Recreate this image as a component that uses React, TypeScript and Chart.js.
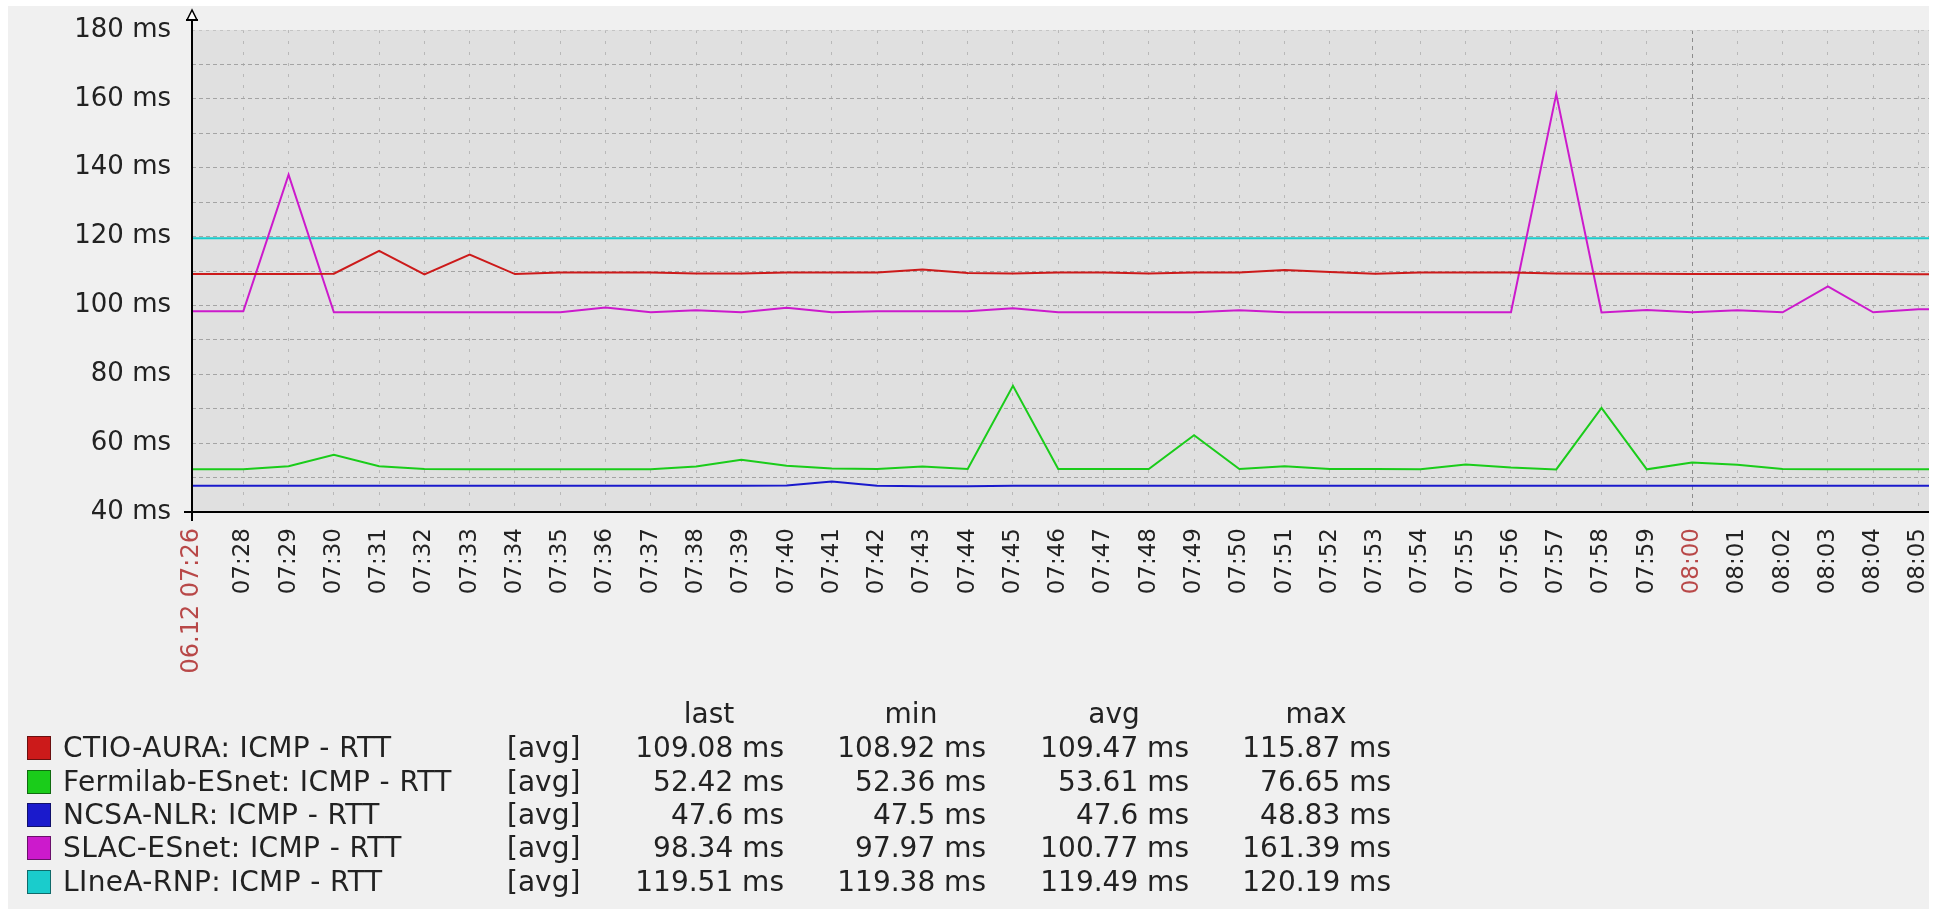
import React, { useEffect, useRef } from "react";
import { Chart, registerables } from "chart.js";

Chart.register(...registerables);

// ---------- data ----------
const times = [
  "07:26", "07:27", "07:28", "07:29", "07:30", "07:31", "07:32", "07:33", "07:34", "07:35",
  "07:36", "07:37", "07:38", "07:39", "07:40", "07:41", "07:42", "07:43", "07:44", "07:45",
  "07:46", "07:47", "07:48", "07:49", "07:50", "07:51", "07:52", "07:53", "07:54", "07:55",
  "07:56", "07:57", "07:58", "07:59", "08:00", "08:01", "08:02", "08:03", "08:04", "08:05", "08:06",
];

const ctioAura = [
  109.1, 109.1, 109.1, 109.1, 109.2, 115.87, 109.0, 114.8, 109.1, 109.6,
  109.6, 109.6, 109.3, 109.3, 109.6, 109.6, 109.6, 110.4, 109.4, 109.3,
  109.6, 109.6, 109.3, 109.6, 109.6, 110.3, 109.7, 109.2, 109.6, 109.6,
  109.6, 109.3, 109.2, 109.2, 109.1, 109.1, 109.1, 109.1, 109.1, 109.08, 109.08,
];

const fermilabEsnet = [
  52.4, 52.4, 52.4, 53.3, 56.6, 53.3, 52.5, 52.4, 52.4, 52.4,
  52.4, 52.4, 53.2, 55.2, 53.4, 52.6, 52.5, 53.2, 52.5, 76.65,
  52.5, 52.5, 52.5, 62.3, 52.5, 53.3, 52.5, 52.5, 52.4, 53.8,
  52.9, 52.36, 70.2, 52.4, 54.4, 53.7, 52.5, 52.42, 52.42, 52.42, 52.42,
];

const ncsaNlr = [
  47.6, 47.6, 47.6, 47.6, 47.6, 47.6, 47.6, 47.6, 47.6, 47.6,
  47.6, 47.6, 47.6, 47.6, 47.7, 48.83, 47.6, 47.5, 47.5, 47.6,
  47.6, 47.6, 47.6, 47.6, 47.6, 47.6, 47.6, 47.6, 47.6, 47.6,
  47.6, 47.6, 47.6, 47.6, 47.6, 47.6, 47.6, 47.6, 47.6, 47.6, 47.6,
];

const slacEsnet = [
  98.3, 98.3, 98.3, 138.0, 98.0, 98.0, 98.0, 98.0, 98.0, 98.0,
  99.4, 98.0, 98.6, 98.0, 99.3, 98.0, 98.3, 98.3, 98.3, 99.2,
  98.0, 98.0, 98.0, 98.0, 98.6, 98.0, 98.0, 98.0, 98.0, 98.0,
  98.0, 161.39, 97.97, 98.7, 98.0, 98.6, 98.0, 105.5, 98.0, 98.9, 98.9,
];

const lineaRnp = [
  119.5, 119.5, 119.5, 119.5, 119.5, 119.5, 119.5, 119.5, 119.5, 119.5,
  119.5, 119.5, 119.5, 119.5, 119.5, 119.5, 119.5, 119.5, 119.5, 119.5,
  119.5, 119.5, 119.5, 119.5, 119.5, 119.5, 119.5, 119.5, 119.5, 119.5,
  119.5, 119.5, 119.5, 119.5, 119.5, 119.5, 119.5, 119.5, 119.5, 119.51, 119.51,
];

const seriesNames = [
  "CTIO-AURA: ICMP - RTT",
  "Fermilab-ESnet: ICMP - RTT",
  "NCSA-NLR: ICMP - RTT",
  "SLAC-ESnet: ICMP - RTT",
  "LIneA-RNP: ICMP - RTT",
];
const seriesColors = ["#cc1a1a", "#1acc1a", "#1a1acc", "#cc1acc", "#1acccc"];
const seriesBorders = ["#6a1010", "#106a10", "#10106a", "#6a106a", "#106a6a"];
const seriesValues = [ctioAura, fermilabEsnet, ncsaNlr, slacEsnet, lineaRnp];

const lastVals = ["109.08 ms", "52.42 ms", "47.6 ms", "98.34 ms", "119.51 ms"];
const minVals = ["108.92 ms", "52.36 ms", "47.5 ms", "97.97 ms", "119.38 ms"];
const avgVals = ["109.47 ms", "53.61 ms", "47.6 ms", "100.77 ms", "119.49 ms"];
const maxVals = ["115.87 ms", "76.65 ms", "48.83 ms", "161.39 ms", "120.19 ms"];
const legendHeaders = ["last", "min", "avg", "max"];

// x axis: visible window and tick labels
const xWindowStart = "07:26:52";
const xWindowEnd = "08:05:14";
const xTickTimes = [
  "07:26:52", "07:28", "07:29", "07:30", "07:31", "07:32", "07:33", "07:34", "07:35", "07:36",
  "07:37", "07:38", "07:39", "07:40", "07:41", "07:42", "07:43", "07:44", "07:45", "07:46",
  "07:47", "07:48", "07:49", "07:50", "07:51", "07:52", "07:53", "07:54", "07:55", "07:56",
  "07:57", "07:58", "07:59", "08:00", "08:01", "08:02", "08:03", "08:04", "08:05",
];
const xTickLabels = [
  "06.12 07:26", "07:28", "07:29", "07:30", "07:31", "07:32", "07:33", "07:34", "07:35", "07:36",
  "07:37", "07:38", "07:39", "07:40", "07:41", "07:42", "07:43", "07:44", "07:45", "07:46",
  "07:47", "07:48", "07:49", "07:50", "07:51", "07:52", "07:53", "07:54", "07:55", "07:56",
  "07:57", "07:58", "07:59", "08:00", "08:01", "08:02", "08:03", "08:04", "08:05",
];
const redTickLabels = ["06.12 07:26", "08:00"];

const yMin = 40;
const yMax = 180;
const yStep = 10;
const yLabelEvery = 20;

// ---------- helpers ----------
const toMinutes = (t: string) => {
  const p = t.split(":").map(Number);
  return (p[0] - 7) * 60 + p[1] + (p[2] || 0) / 60;
};

const FONT = "'DejaVu Sans', sans-serif";
const W = 1921;
const H = 903;

export default function App() {
  const ref = useRef<HTMLCanvasElement | null>(null);

  useEffect(() => {
    if (!ref.current) return;
    const xMin = toMinutes(xWindowStart);
    const xMax = toMinutes(xWindowEnd);
    const tickVals = xTickTimes.map(toMinutes);
    const labelFor = (v: number) => {
      const i = tickVals.findIndex((t) => Math.abs(t - v) < 1e-6);
      return i >= 0 ? xTickLabels[i] : "";
    };

    const bgPlugin = {
      id: "plotBg",
      beforeDraw(chart: any) {
        const { ctx, chartArea: a } = chart;
        ctx.save();
        ctx.fillStyle = "#e0e0e0";
        ctx.fillRect(a.left, a.top, a.right - a.left, a.bottom - a.top);
        ctx.restore();
      },
    };

    const axesPlugin = {
      id: "axes",
      afterDraw(chart: any) {
        const { ctx, chartArea: a } = chart;
        const x0 = Math.round(a.left);
        const y0 = Math.round(a.bottom);
        ctx.save();
        ctx.fillStyle = "#000";
        ctx.fillRect(x0 - 1, 6, 2, y0 + 9 - 6);
        ctx.fillRect(x0 - 8, y0 - 1, a.right - (x0 - 8), 2);
        ctx.beginPath();
        ctx.moveTo(x0, 4);
        ctx.lineTo(x0 - 5, 14);
        ctx.lineTo(x0 + 5, 14);
        ctx.closePath();
        ctx.fillStyle = "#fff";
        ctx.fill();
        ctx.lineWidth = 1.5;
        ctx.strokeStyle = "#000";
        ctx.stroke();
        ctx.fillStyle = "#000";
        ctx.fillRect(x0 - 6, 13, 12, 2);
        ctx.restore();
      },
    };

    const chart = new Chart(ref.current, {
      type: "line",
      data: {
        datasets: seriesValues.map((vals, si) => ({
          label: seriesNames[si],
          data: times.map((t, i) => ({ x: toMinutes(t), y: vals[i] })),
          borderColor: seriesColors[si],
          backgroundColor: seriesColors[si],
          borderWidth: 2,
          pointRadius: 0,
          tension: 0,
          fill: false,
        })),
      },
      options: {
        animation: false,
        responsive: false,
        maintainAspectRatio: false,
        layout: { padding: { top: 24, left: 0, right: 0, bottom: 0 } },
        plugins: { legend: { display: false }, tooltip: { enabled: false } },
        scales: {
          x: {
            type: "linear",
            min: xMin,
            max: xMax,
            afterBuildTicks: (s: any) => {
              s.ticks = tickVals.map((v) => ({ value: v }));
            },
            afterFit: (s: any) => {
              s.height = H - 506;
              s.paddingLeft = 0;
              s.paddingRight = 0;
            },
            ticks: {
              autoSkip: false,
              minRotation: 90,
              maxRotation: 90,
              padding: 16,
              font: (c: any) => ({
                family: FONT,
                size: labelFor(c.tick?.value) === "06.12 07:26" ? 24 : 23,
              }),
              color: (c: any) =>
                redTickLabels.includes(labelFor(c.tick?.value)) ? "#b84848" : "#222",
              callback: (v: any) => labelFor(Number(v)),
            },
            grid: {
              drawTicks: false,
              lineWidth: 1,
              color: (c: any) => {
                const v = c.tick?.value;
                if (v === undefined || Math.abs(v - xMin) < 1e-6) return "rgba(0,0,0,0)";
                if (labelFor(v) === "08:00") return "#8c8c8c";
                return "#b8b8b8";
              },
            },
            border: {
              display: false,
              dash: (c: any) => (labelFor(c.tick?.value) === "08:00" ? [4, 4] : [3, 8]),
            },
          },
          y: {
            min: yMin,
            max: yMax,
            afterFit: (s: any) => {
              s.width = 184;
              s.paddingTop = 0;
              s.paddingBottom = 0;
            },
            ticks: {
              stepSize: yStep,
              autoSkip: false,
              padding: 21,
              font: { family: FONT, size: 26 },
              color: "#222",
              callback: (v: any) => (Number(v) % yLabelEvery === 0 ? `${v} ms` : ""),
            },
            grid: {
              drawTicks: false,
              lineWidth: 1,
              color: (c: any) => {
                const v = c.tick?.value;
                if (v === yMin) return "rgba(0,0,0,0)";
                if (v === yMax) return "#c4c4c4";
                return "#a4a4a4";
              },
            },
            border: {
              display: false,
              dash: (c: any) => (c.tick?.value === yMax ? [3, 4] : [4, 3]),
            },
          },
        },
      },
      plugins: [bgPlugin, axesPlugin],
    } as any);

    return () => chart.destroy();
  }, []);

  const rowCenters = [742, 776, 809, 842, 876];
  const headerCenter = 708;
  const colRights = [776, 978, 1181, 1383];
  const colVals = [lastVals, minVals, avgVals, maxVals];
  const lh = 32;
  const textStyle: React.CSSProperties = {
    position: "absolute",
    fontFamily: FONT,
    fontSize: 28,
    lineHeight: `${lh}px`,
    color: "#222",
    whiteSpace: "nowrap",
  };

  return (
    <div
      style={{
        position: "absolute",
        left: 8,
        top: 6,
        width: W,
        height: H,
        background: "#f0f0f0",
        overflow: "hidden",
      }}
    >
      <canvas ref={ref} width={W} height={H} style={{ width: W, height: H, display: "block" }} />
      {legendHeaders.map((h, i) => (
        <div
          key={h}
          style={{
            ...textStyle,
            top: headerCenter - lh / 2,
            left: colRights[i] - 150,
            width: 150,
            textAlign: "center",
          }}
        >
          {h}
        </div>
      ))}
      {seriesNames.map((name, r) => (
        <React.Fragment key={name}>
          <div
            style={{
              position: "absolute",
              left: 19,
              top: rowCenters[r] - 12,
              width: 22,
              height: 22,
              background: seriesColors[r],
              border: `1px solid ${seriesBorders[r]}`,
            }}
          />
          <div style={{ ...textStyle, left: 55, top: rowCenters[r] - lh / 2, letterSpacing: 0.4 }}>
            {name}
          </div>
          <div style={{ ...textStyle, left: 499, top: rowCenters[r] - lh / 2 }}>[avg]</div>
          {colVals.map((vals, c) => (
            <div
              key={c}
              style={{
                ...textStyle,
                top: rowCenters[r] - lh / 2,
                left: colRights[c] - 200,
                width: 200,
                textAlign: "right",
              }}
            >
              {vals[r]}
            </div>
          ))}
        </React.Fragment>
      ))}
    </div>
  );
}
